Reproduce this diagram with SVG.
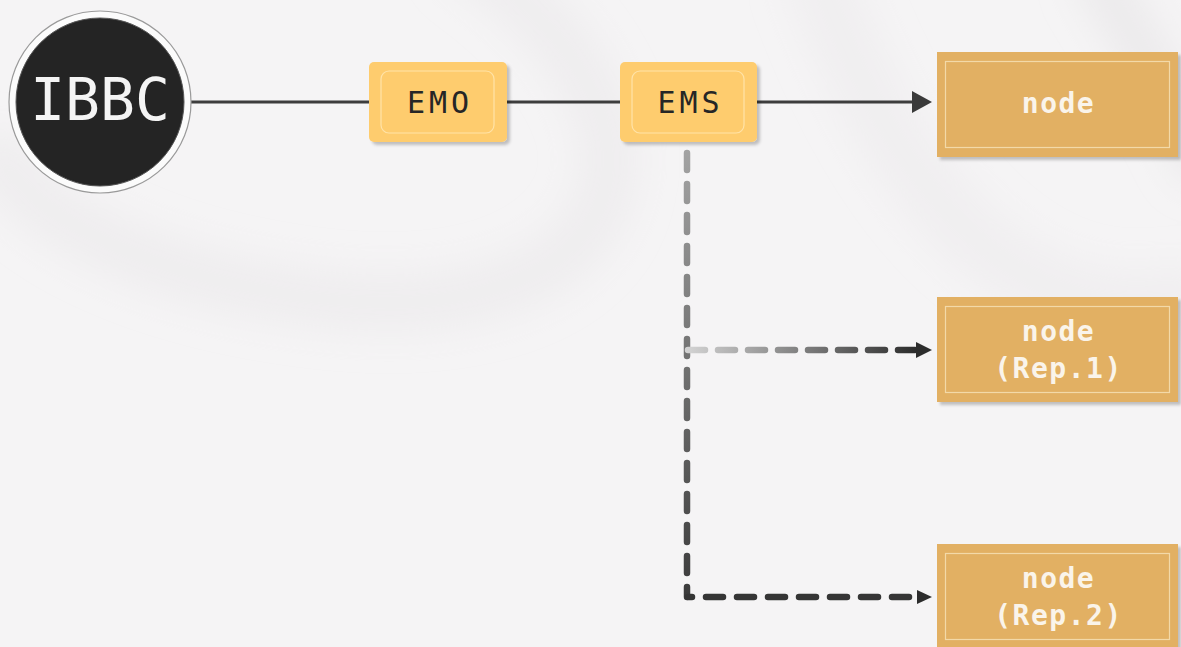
<svg xmlns="http://www.w3.org/2000/svg" width="1181" height="647" viewBox="0 0 1181 647">
  <defs>
    <style>
      .mono { font-family: "DejaVu Sans Mono", "Liberation Mono", monospace; }
      .small { font-size: 30px; fill: #262626; letter-spacing: 4px; text-anchor: middle; }
      .ntxt { font-size: 28px; font-weight: bold; fill: #FAF4EA; letter-spacing: 1.5px; text-anchor: middle; }
      .sbox { fill: #FECC6E; }
      .sin { fill: none; stroke: #FFE3A8; stroke-width: 1.2; }
      .nbox { fill: #E2B063; }
      .nin { fill: none; stroke: #F3D9A8; stroke-width: 1.2; }
      .dash { fill: none; stroke-width: 6.5; stroke-linecap: round; }
    </style>
    <filter id="sh" x="-10%" y="-10%" width="130%" height="140%">
      <feDropShadow dx="3" dy="3" stdDeviation="1.5" flood-color="#000" flood-opacity="0.22"/>
    </filter>
    <filter id="soft" x="-20%" y="-20%" width="140%" height="140%">
      <feGaussianBlur stdDeviation="18"/>
    </filter>
    <linearGradient id="gv" gradientUnits="userSpaceOnUse" x1="0" y1="150" x2="0" y2="600">
      <stop offset="0" stop-color="#a3a3a3"/>
      <stop offset="1" stop-color="#3a3a3a"/>
    </linearGradient>
    <linearGradient id="gh1" gradientUnits="userSpaceOnUse" x1="688" y1="0" x2="916" y2="0">
      <stop offset="0" stop-color="#d2d2d2"/>
      <stop offset="1" stop-color="#2c2c2c"/>
    </linearGradient>
    <marker id="a-main" markerUnits="userSpaceOnUse" markerWidth="20" markerHeight="22" refX="0" refY="11" orient="auto">
      <path d="M0,0 L20,11 L0,22 z" fill="#3a3a3a"/>
    </marker>
    <marker id="a-r1" markerUnits="userSpaceOnUse" markerWidth="16" markerHeight="16" refX="0" refY="8" orient="auto">
      <path d="M0,0 L16,8 L0,16 z" fill="#2c2c2c"/>
    </marker>
    <marker id="a-r2" markerUnits="userSpaceOnUse" markerWidth="15" markerHeight="14" refX="0" refY="7" orient="auto">
      <path d="M0,0 L15,7 L0,14 z" fill="#2c2c2c"/>
    </marker>
  </defs>

  <!-- background -->
  <rect x="0" y="0" width="1181" height="647" fill="#F5F4F5"/>
  <g fill="none" stroke-linecap="round" filter="url(#soft)">
    <path d="M 470 -40 C 700 120, 640 330, 330 300 C 150 280, 40 220, 0 160" stroke="#e6e5e6" stroke-width="60" opacity="0.45"/>
    <path d="M 820 -20 C 900 200, 1020 330, 1181 300" stroke="#e8e7e8" stroke-width="70" opacity="0.4"/>
    <path d="M 1100 -20 C 1150 60, 1181 120, 1200 160" stroke="#e3e2e3" stroke-width="50" opacity="0.5"/>
  </g>

  <!-- connectors -->
  <g id="connectors">
    <line x1="191" y1="102" x2="369" y2="102" stroke="#3d3d3d" stroke-width="3"/>
    <line x1="507" y1="102" x2="620" y2="102" stroke="#3d3d3d" stroke-width="3"/>
    <line x1="757" y1="102" x2="912" y2="102" stroke="#3d3d3d" stroke-width="3" marker-end="url(#a-main)"/>
    <path class="dash" d="M687,153 L687,597" stroke="url(#gv)" stroke-dasharray="17 14"/>
    <path class="dash" d="M688,350 L916,350" stroke="url(#gh1)" stroke-dasharray="17 13" marker-end="url(#a-r1)"/>
    <path class="dash" d="M688,597 L917,597" stroke="#353535" stroke-dasharray="17 14" stroke-dashoffset="13" marker-end="url(#a-r2)"/>
  </g>

  <!-- IBBC -->
  <g id="ibbc">
    <circle cx="100" cy="102" r="91" fill="#fbfbfb" stroke="#9a9a9a" stroke-width="1.2"/>
    <circle cx="100" cy="102" r="84" fill="#262626" stroke="#555" stroke-width="1"/>
    <circle cx="100" cy="102" r="82.5" fill="#242424"/>
    <text class="mono" x="100" y="120" font-size="58" fill="#f4f4f4" text-anchor="middle">IBBC</text>
  </g>

  <!-- EMO -->
  <g id="emo">
    <rect class="sbox" x="369" y="62" width="138" height="80" rx="5" filter="url(#sh)"/>
    <rect class="sin" x="381" y="71" width="113" height="62" rx="8"/>
    <text class="mono small" x="440" y="113">EMO</text>
  </g>

  <!-- EMS -->
  <g id="ems">
    <rect class="sbox" x="620" y="62" width="137" height="80" rx="5" filter="url(#sh)"/>
    <rect class="sin" x="632" y="71" width="112" height="62" rx="8"/>
    <text class="mono small" x="690.5" y="113">EMS</text>
  </g>

  <!-- node -->
  <g id="node-main">
    <rect class="nbox" x="937" y="52" width="241" height="105" filter="url(#sh)"/>
    <rect class="nin" x="945.5" y="61.5" width="224" height="86"/>
    <text class="mono ntxt" x="1058.5" y="113">node</text>
  </g>

  <!-- node Rep.1 -->
  <g id="node-rep1">
    <rect class="nbox" x="937" y="297" width="241" height="105" filter="url(#sh)"/>
    <rect class="nin" x="945.5" y="306.5" width="224" height="86"/>
    <text class="mono ntxt" x="1058.5" y="341">node</text>
    <text class="mono ntxt" x="1058.5" y="378">(Rep.1)</text>
  </g>

  <!-- node Rep.2 -->
  <g id="node-rep2">
    <rect class="nbox" x="937" y="544" width="241" height="105" filter="url(#sh)"/>
    <rect class="nin" x="945.5" y="553.5" width="224" height="86"/>
    <text class="mono ntxt" x="1058.5" y="588">node</text>
    <text class="mono ntxt" x="1058.5" y="625">(Rep.2)</text>
  </g>
</svg>
